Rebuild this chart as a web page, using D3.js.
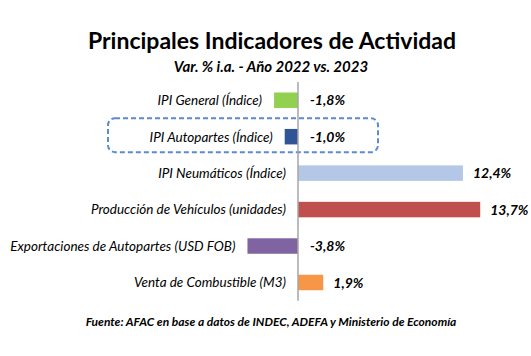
<!DOCTYPE html>
<html><head><meta charset="utf-8">
<script src="https://cdn.jsdelivr.net/npm/d3@7"></script>
<style>
html,body{margin:0;padding:0;background:#fff;}
svg{display:block;}
text{font-family:Lato,"Open Sans",sans-serif;fill:#000;}
</style></head>
<body>
<svg id="c" width="531" height="356"></svg>
<script>
const categories = [
  "IPI General (Índice)",
  "IPI Autopartes (Índice)",
  "IPI Neumáticos (Índice)",
  "Producción de Vehículos (unidades)",
  "Exportaciones de Autopartes (USD FOB)",
  "Venta de Combustible (M3)"
];
const values = [-1.8, -1.0, 12.4, 13.7, -3.8, 1.9];
const valueLabels = ["-1,8%", "-1,0%", "12,4%", "13,7%", "-3,8%", "1,9%"];
const colors = ["#92d050", "#2f5597", "#b4c7e7", "#c0504d", "#8064a2", "#f79646"];
const highlighted = ["IPI Autopartes (Índice)"];
const title = "Principales Indicadores de Actividad";
const subtitle = "Var. % i.a. - Año 2022 vs. 2023";
const source = "Fuente: AFAC en base a datos de INDEC, ADEFA y Ministerio de Economía";

const svg = d3.select("#c");
const x = d3.scaleLinear().domain([-4, 14]).range([298 - 4*13.3, 298 + 14*13.3]);
const y = d3.scaleBand().domain(categories).range([82, 300.7]).paddingInner(0.575).paddingOuter(0.2875);

// title
svg.append("text").attr("x", 272).attr("y", 48.5).attr("text-anchor","middle")
  .style("font-weight","700").style("font-size","23px").text(title);
svg.append("text").attr("x", 271).attr("y", 71.5).attr("text-anchor","middle")
  .style("font-weight","700").style("font-style","italic").style("font-size","15px").text(subtitle);

// highlight box
highlighted.forEach(c => {
  const yc = y(c) + y.bandwidth()/2;
  svg.append("rect").attr("x", 108).attr("y", yc - 18.5).attr("width", 270).attr("height", 34)
    .attr("rx", 7).attr("fill","none").attr("stroke","#5b8bd0").attr("stroke-width", 2)
    .attr("stroke-dasharray","5,3");
});

const data = categories.map((c,i)=>({c, v: values[i], lab: valueLabels[i], col: colors[i]}));

svg.selectAll("rect.bar").data(data).join("rect").attr("class","bar")
  .attr("x", d => x(Math.min(0,d.v))).attr("width", d => Math.abs(x(d.v)-x(0)))
  .attr("y", d => y(d.c)).attr("height", y.bandwidth()).attr("fill", d => d.col);

// axis line
svg.append("line").attr("x1", x(0)).attr("x2", x(0)).attr("y1", 82).attr("y2", 300.7)
  .attr("stroke","#a6a6a6").attr("stroke-width",1.5);

// category labels
svg.selectAll("text.cat").data(data).join("text").attr("class","cat")
  .attr("x", d => x(Math.min(0,d.v)) - 12)
  .attr("y", d => y(d.c) + y.bandwidth()/2).attr("dy","0.36em")
  .attr("text-anchor","end").style("font-style","italic").style("font-size","13.5px")
  .text(d => d.c);

// value labels
svg.selectAll("text.val").data(data).join("text").attr("class","val")
  .attr("x", d => d.v >= 0 ? x(d.v) + 10 : x(0) + 12)
  .attr("y", d => y(d.c) + y.bandwidth()/2).attr("dy","0.36em")
  .attr("text-anchor","start").style("font-style","italic").style("font-weight","700").style("font-size","14px")
  .text(d => d.lab);

svg.append("text").attr("x", 271).attr("y", 326).attr("text-anchor","middle")
  .style("font-weight","700").style("font-style","italic").style("font-size","12px").text(source);
</script>
</body></html>
